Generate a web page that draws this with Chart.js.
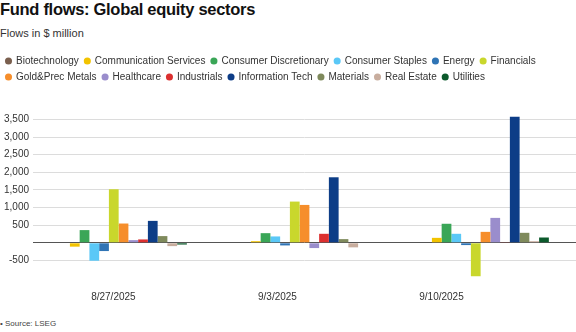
<!DOCTYPE html>
<html>
<head>
<meta charset="utf-8">
<script src="https://cdn.jsdelivr.net/npm/chart.js@4"></script>
<style>
  body { margin: 0; width: 576px; height: 332px; background: #fff; font-family: "Liberation Sans", Arial, sans-serif; position: relative; overflow: hidden; }
  #title { position: absolute; left: 0; top: 0px; font-size: 16.5px; font-weight: bold; color: #111; letter-spacing: -0.3px; }
  #sub { position: absolute; left: 0; top: 27px; font-size: 11px; color: #333; }
  #src { position: absolute; left: 0; top: 319px; font-size: 8px; color: #444; }
  #wrap { position: absolute; left: 0; top: 50px; width: 576px; height: 258px; }
</style>
</head>
<body>
<div id="title">Fund flows: Global equity sectors</div>
<div id="sub">Flows in $ million</div>
<div id="wrap"><canvas id="fundChart"></canvas></div>
<div id="src">• Source: LSEG</div>
<script>
// -------------------- DATA --------------------
const weeks = ['8/27/2025', '9/3/2025', '9/10/2025'];

const sectors = ['Biotechnology', 'Communication Services', 'Consumer Discretionary', 'Consumer Staples',
  'Energy', 'Financials', 'Gold&Prec Metals', 'Healthcare', 'Industrials', 'Information Tech',
  'Materials', 'Real Estate', 'Utilities'];

// flows in $ million, one array per sector (one value per week)
const biotech      = [0, 0, 0];
const commServices = [-110, 45, 140];
const consDisc     = [360, 273, 540];
const consStaples  = [-510, 180, 255];
const energy       = [-235, -75, -65];
const financials   = [1520, 1170, -950];
const goldMetals   = [547, 1075, 310];
const healthcare   = [75, -150, 707];
const industrials  = [95, 255, 10];
const infoTech     = [622, 1860, 3577];
const materials    = [190, 104, 283];
const realEstate   = [-95, -130, 45];
const utilities    = [-50, 0, 150];

const sectorValues = [biotech, commServices, consDisc, consStaples, energy, financials,
  goldMetals, healthcare, industrials, infoTech, materials, realEstate, utilities];

const colors = ['#7a5f4e', '#f2c300', '#3aa657', '#5ac8f7', '#2f74b5', '#c9d72c',
  '#f68e2b', '#9a8dcc', '#dc3030', '#0d3d87', '#7f8a5c', '#c8ad9e', '#0c5a2c'];

const yTicks = [-500, 500, 1000, 1500, 2000, 2500, 3000, 3500];

// extra room between the legend and the plot
const legendGap = {
  id: 'legendGap',
  beforeInit(chart) {
    const fit = chart.legend.fit;
    chart.legend.fit = function () {
      fit.bind(chart.legend)();
      this.height += 24;
    };
  }
};

// -------------------- CHART --------------------
const ctx = document.getElementById('fundChart').getContext('2d');
new Chart(ctx, {
  type: 'bar',
  data: {
    labels: weeks,
    datasets: sectors.map((s, i) => ({
      label: s,
      data: sectorValues[i],
      backgroundColor: colors[i],
      categoryPercentage: 0.7,
      barPercentage: 1.0
    }))
  },
  plugins: [legendGap],
  options: {
    responsive: true,
    maintainAspectRatio: false,
    animation: false,
    plugins: {
      legend: {
        position: 'top',
        align: 'start',
        maxWidth: 500,
        labels: {
          usePointStyle: true,
          pointStyle: 'circle',
          boxWidth: 5,
          boxHeight: 5,
          padding: 6,
          color: '#333',
          font: { family: 'Liberation Sans', size: 10 }
        }
      },
      tooltip: { enabled: false }
    },
    scales: {
      x: {
        display: false
      },
      // date labels sit a little left of the bar groups, as in the original
      dates: {
        type: 'linear',
        position: 'bottom',
        offset: false,
        bounds: 'data',
        min: -0.49,
        max: 2.82,
        grid: { display: false },
        border: { display: false },
        afterBuildTicks: (axis) => {
          axis.ticks = weeks.map((w, i) => ({ value: i }));
        },
        ticks: {
          padding: 5,
          color: '#333',
          font: { family: 'Liberation Sans', size: 10 },
          callback: (v) => weeks[v] || ''
        }
      },
      y: {
        min: -1000,
        max: 3600,
        border: { display: false },
        afterBuildTicks: (axis) => {
          axis.ticks = [-1000, 0].concat(yTicks).sort((a, b) => a - b).map(v => ({ value: v }));
        },
        grid: {
          color: (c) => c.tick.value === 0 ? '#555' : (c.tick.value === -1000 ? 'rgba(0,0,0,0)' : '#dcdcdc'),
          lineWidth: 1,
          drawTicks: false
        },
        ticks: {
          padding: 4,
          color: '#333',
          font: { family: 'Liberation Sans', size: 10 },
          callback: (v) => yTicks.includes(v) ? v.toLocaleString('en-US') : ''
        }
      }
    }
  }
});
</script>
</body>
</html>
